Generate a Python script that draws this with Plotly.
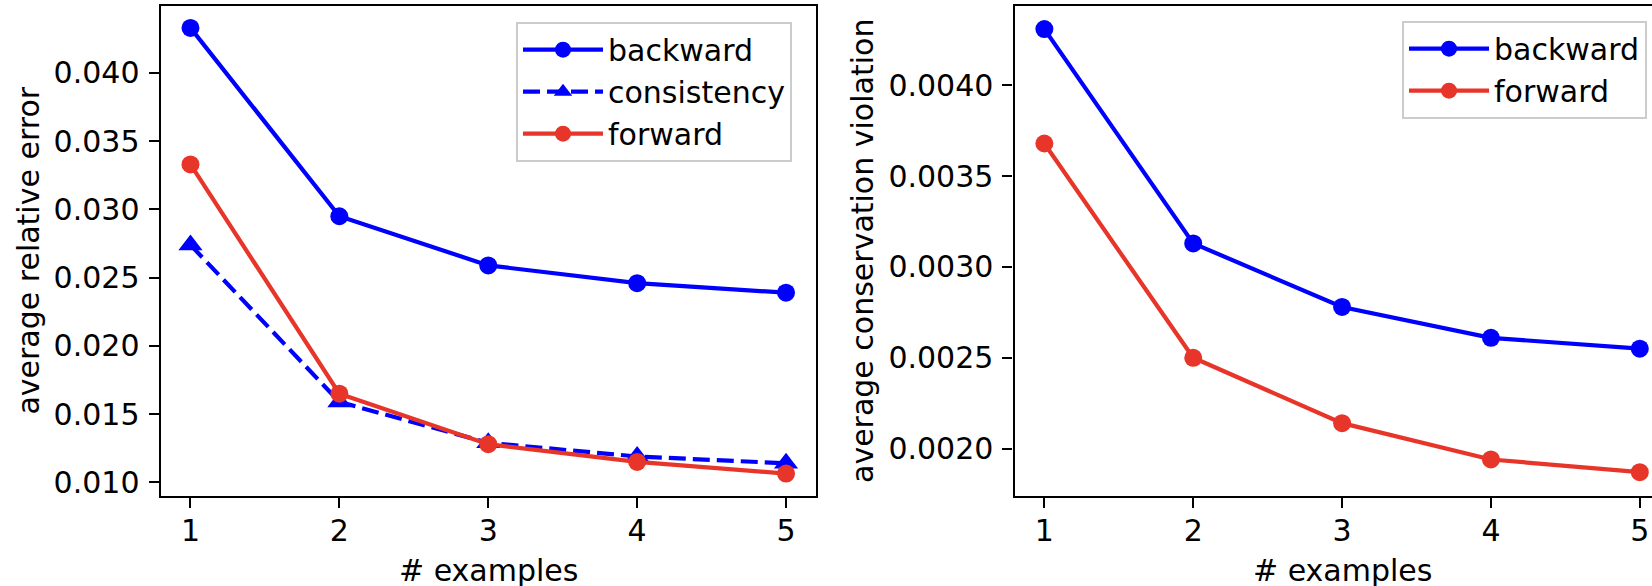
import plotly.graph_objects as go

# ---- data ----
examples = [1, 2, 3, 4, 5]
err_backward = [0.0433, 0.0295, 0.0259, 0.0246, 0.0239]
err_consistency = [0.0274, 0.0159, 0.0129, 0.0119, 0.0114]
err_forward = [0.0333, 0.0165, 0.0128, 0.0115, 0.01065]
cons_backward = [0.00431, 0.00313, 0.00278, 0.00261, 0.00255]
cons_forward = [0.00368, 0.00250, 0.00214, 0.00194, 0.00187]
left_yticks = [0.010, 0.015, 0.020, 0.025, 0.030, 0.035, 0.040]
right_yticks = [0.0020, 0.0025, 0.0030, 0.0035, 0.0040]

BLUE = "#0000ff"
RED = "#e8352a"
FONT = "DejaVu Sans"
FS = 30
W, H = 1652, 586

fig = go.Figure()

def add(x, y, name, color, xa, ya, legend, dash="solid", symbol="circle", msize=18):
    fig.add_trace(go.Scatter(
        x=x, y=y, name=name, mode="lines+markers",
        line=dict(color=color, width=4.2, dash=dash),
        marker=dict(color=color, size=msize, symbol=symbol),
        xaxis=xa, yaxis=ya, legend=legend,
    ))

add(examples, err_backward, "backward", BLUE, "x", "y", "legend")
add(examples, err_consistency, "consistency", BLUE, "x", "y", "legend",
    dash="17px,7px", symbol="triangle-up", msize=21)
add(examples, err_forward, "forward", RED, "x", "y", "legend")
add(examples, cons_backward, "backward", BLUE, "x2", "y2", "legend2")
add(examples, cons_forward, "forward", RED, "x2", "y2", "legend2")

def px_x(p):
    return p / W

def px_y(p):
    return 1 - p / H

ydom = [px_y(495.8), px_y(5.5)]

axis_common = dict(
    showline=True, linecolor="black", linewidth=2.4,
    ticks="outside", ticklen=10, tickwidth=2.4, tickcolor="black",
    showgrid=False, zeroline=False,
    tickfont=dict(family=FONT, size=FS, color="black"),
)

legend_common = dict(
    xanchor="left", yanchor="top",
    bgcolor="rgba(255,255,255,0.8)", bordercolor="#cccccc",
    borderwidth=2, itemwidth=80,
    font=dict(family=FONT, size=FS, color="black"),
)

fig.update_layout(
    width=W, height=H,
    margin=dict(l=0, r=0, t=0, b=0, autoexpand=False),
    paper_bgcolor="white", plot_bgcolor="white",
    font=dict(family=FONT, size=FS, color="black"),
    xaxis=dict(domain=[px_x(160.7), px_x(815.8)], range=[0.8, 5.2],
               tickvals=examples, mirror=True, anchor="y",
               ticklabelstandoff=-3, **axis_common),
    yaxis=dict(domain=ydom, range=[0.00902, 0.04494],
               tickvals=left_yticks, tickformat=".3f", mirror=True,
               anchor="x", ticklabelstandoff=3, **axis_common),
    xaxis2=dict(domain=[px_x(1014.6), 1.0], range=[0.8, 5.082],
                tickvals=examples, mirror=True, anchor="y2",
                ticklabelstandoff=-3, **axis_common),
    yaxis2=dict(domain=ydom, range=[0.00174, 0.00444],
                tickvals=right_yticks, tickformat=".4f", mirror=False,
                anchor="x2", ticklabelstandoff=3, **axis_common),
    legend=dict(x=px_x(516), y=px_y(21.7), **legend_common),
    legend2=dict(x=px_x(1402), y=px_y(20.7), **legend_common),
    showlegend=True,
)

annots = [
    dict(text="average relative error", x=px_x(29), y=px_y(250.6), textangle=-90),
    dict(text="average conservation violation", x=px_x(862), y=px_y(251), textangle=-90),
    dict(text="# examples", x=px_x(488.3), y=px_y(570)),
    dict(text="# examples", x=px_x(1342), y=px_y(570)),
]
for a in annots:
    fig.add_annotation(xref="paper", yref="paper", showarrow=False,
                       xanchor="center", yanchor="middle",
                       font=dict(family=FONT, size=FS, color="black"), **a)

fig.write_html(
    "out.html",
    config={"displayModeBar": False},
    post_script="document.body.style.margin='0';document.body.style.overflow='hidden';",
)
